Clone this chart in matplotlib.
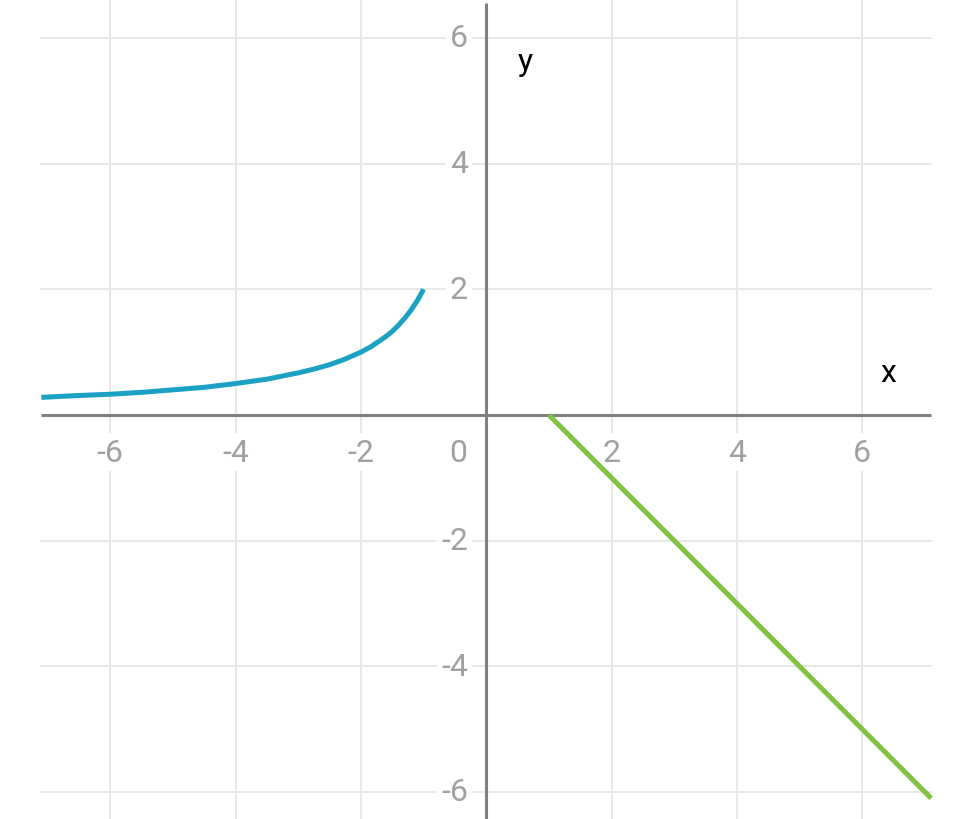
import matplotlib
matplotlib.use("Agg")
import matplotlib.pyplot as plt

plt.rcParams['font.family'] = ['Roboto', 'DejaVu Sans']

# data
curve_x = [-7.1, -6.5, -6.0, -5.5, -5.0, -4.5, -4.0, -3.5, -3.0, -2.75, -2.5, -2.25, -2.0,
           -1.85, -1.7, -1.6, -1.5, -1.4, -1.3, -1.2, -1.1, -1.0]
curve_y = [0.28, 0.31, 0.33, 0.36, 0.40, 0.44, 0.50, 0.57, 0.67, 0.73, 0.80, 0.89, 1.00,
           1.08, 1.18, 1.25, 1.33, 1.43, 1.54, 1.67, 1.82, 2.00]
line_x = [1.0, 7.1]
line_y = [0.0, -6.1]
xticks = [-6, -4, -2, 2, 4, 6]
yticks = [-6, -4, -2, 2, 4, 6]

fig = plt.figure(figsize=(9.75, 8.2), dpi=100)
ax = fig.add_axes([0, 0, 1, 1])
ax.set_xlim(-7.76, 7.80)
ax.set_ylim(-6.43, 6.62)
ax.axis('off')

grid_c = '#e8e8e8'
for t in xticks:
    ax.plot([t, t], [-6.43, 6.62], color=grid_c, lw=1.4, zorder=1)
for t in yticks:
    ax.plot([-7.1, 7.1], [t, t], color=grid_c, lw=1.4, zorder=1)

axis_c = '#808080'
ax.plot([-7.1, 7.1], [0, 0], color=axis_c, lw=2.2, zorder=2, solid_capstyle='butt')
ax.plot([0, 0], [-6.43, 6.56], color=axis_c, lw=2.2, zorder=2, solid_capstyle='butt')

lab_c = '#a0a0a0'
fs = 23
bb = dict(facecolor='white', edgecolor='none', pad=3)
for t in xticks:
    ax.text(t, -0.59, f"{t}", color=lab_c, fontsize=fs, ha='center', va='center', bbox=bb, zorder=3)
ax.text(-0.45, -0.59, "0", color=lab_c, fontsize=fs, ha='center', va='center', bbox=bb, zorder=3)
for t in yticks:
    ax.text(-0.29, t, f"{t}", color=lab_c, fontsize=fs, ha='right', va='center', bbox=bb, zorder=3)

ax.text(6.42, 0.67, "x", color='black', fontsize=fs, ha='center', va='center', zorder=3)
ax.text(0.62, 5.62, "y", color='black', fontsize=fs, ha='center', va='center', zorder=3)

ax.plot(curve_x, curve_y, color='#1ba1c4', lw=3.6, zorder=4, solid_capstyle='butt')
ax.plot(line_x, line_y, color='#80c241', lw=3.6, zorder=4, solid_capstyle='butt')

fig.savefig('out.png', dpi=100)
